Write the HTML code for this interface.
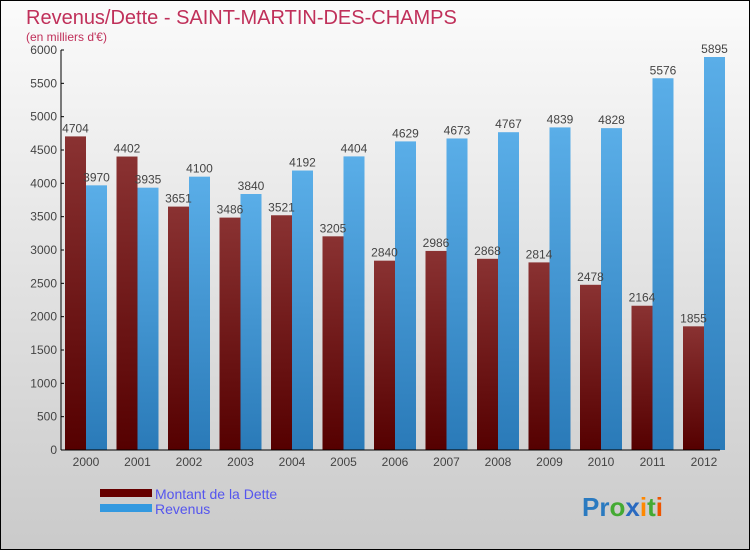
<!DOCTYPE html>
<html><head><meta charset="utf-8"><style>
body{margin:0;width:750px;height:550px;overflow:hidden;font-family:"Liberation Sans",sans-serif}
</style></head><body>
<svg width="750" height="550" xmlns="http://www.w3.org/2000/svg">
<defs>
<linearGradient id="bg" x1="0" y1="0" x2="0" y2="1"><stop offset="0" stop-color="#fbfbfb"/><stop offset="1" stop-color="#cacaca"/></linearGradient>
<linearGradient id="gd" x1="0" y1="0" x2="0" y2="1"><stop offset="0" stop-color="#8a3232"/><stop offset="1" stop-color="#550000"/></linearGradient>
<linearGradient id="gr" x1="0" y1="0" x2="0" y2="1"><stop offset="0" stop-color="#5aaee8"/><stop offset="1" stop-color="#2a7ab8"/></linearGradient>
</defs>
<rect x="0.5" y="0.5" width="749" height="549" fill="url(#bg)" stroke="#000"/>
<text x="26" y="24" font-size="20" fill="#c0305a">Revenus/Dette - SAINT-MARTIN-DES-CHAMPS</text>
<text x="26" y="41" font-size="12" fill="#c0305a">(en milliers d'€)</text>
<g id="yaxis"></g>
<g id="bars"></g>
<g id="xaxis"></g>
<rect x="100" y="489" width="52" height="8" fill="#660000"/>
<text x="155" y="499" font-size="14" fill="#5555ee">Montant de la Dette</text>
<rect x="100" y="504" width="52" height="8" fill="#3399e0"/>
<text x="155" y="514" font-size="14" fill="#5555ee">Revenus</text>
<text x="582" y="516" font-size="26" font-weight="bold"><tspan fill="#2a7ac0">Pr</tspan><tspan fill="#44aa33">o</tspan><tspan fill="#2a6ac0">x</tspan><tspan fill="#ff8800">i</tspan><tspan fill="#44aa33">t</tspan><tspan fill="#ee5500">i</tspan></text>
</svg>
<script>
const years=["2000","2001","2002","2003","2004","2005","2006","2007","2008","2009","2010","2011","2012"];
const dette=[4704,4402,3651,3486,3521,3205,2840,2986,2868,2814,2478,2164,1855];
const revenus=[3970,3935,4100,3840,4192,4404,4629,4673,4767,4839,4828,5576,5895];
const yTicks=[0,500,1000,1500,2000,2500,3000,3500,4000,4500,5000,5500,6000];
const NS="http://www.w3.org/2000/svg";
const y0=450,yTop=50,yMax=6000,x0=61,step=51.5,bw=21;
const Y=v=>y0-(v/yMax)*(y0-yTop);
const X=i=>65+i*step;
function mk(t,a,p,txt){const e=document.createElementNS(NS,t);for(const k in a)e.setAttribute(k,a[k]);if(txt!==undefined)e.textContent=txt;p.appendChild(e);return e;}
const ya=document.getElementById('yaxis'),ba=document.getElementById('bars'),xa=document.getElementById('xaxis');
mk('line',{x1:x0,y1:yTop,x2:x0,y2:y0,stroke:'#000'},ya);
yTicks.forEach(t=>{
  mk('line',{x1:x0,y1:Y(t),x2:x0+3,y2:Y(t),stroke:'#000'},ya);
  const l=mk('text',{x:x0-4,y:Y(t)+4,'font-size':12,'text-anchor':'end',fill:'#444'},ya,String(t));
  
  
});
mk('line',{x1:x0,y1:y0,x2:720,y2:y0,stroke:'#000'},xa);
years.forEach((yr,i)=>{
  const d=mk('rect',{x:X(i),y:Y(dette[i]),width:bw,height:y0-Y(dette[i]),fill:'url(#gd)'},ba);
  
  
  const r=mk('rect',{x:X(i)+bw,y:Y(revenus[i]),width:bw,height:y0-Y(revenus[i]),fill:'url(#gr)'},ba);
  
  
  const dl=mk('text',{x:X(i)+bw/2,y:Y(dette[i])-4,'font-size':12,'text-anchor':'middle',fill:'#444'},ba,String(dette[i]));
  
  
  const rl=mk('text',{x:X(i)+bw*1.5,y:Y(revenus[i])-4,'font-size':12,'text-anchor':'middle',fill:'#444'},ba,String(revenus[i]));
  
  
  const xl=mk('text',{x:X(i)+bw,y:y0+16,'font-size':12,'text-anchor':'middle',fill:'#444'},xa,yr);
  
  
});
</script>
</body></html>
